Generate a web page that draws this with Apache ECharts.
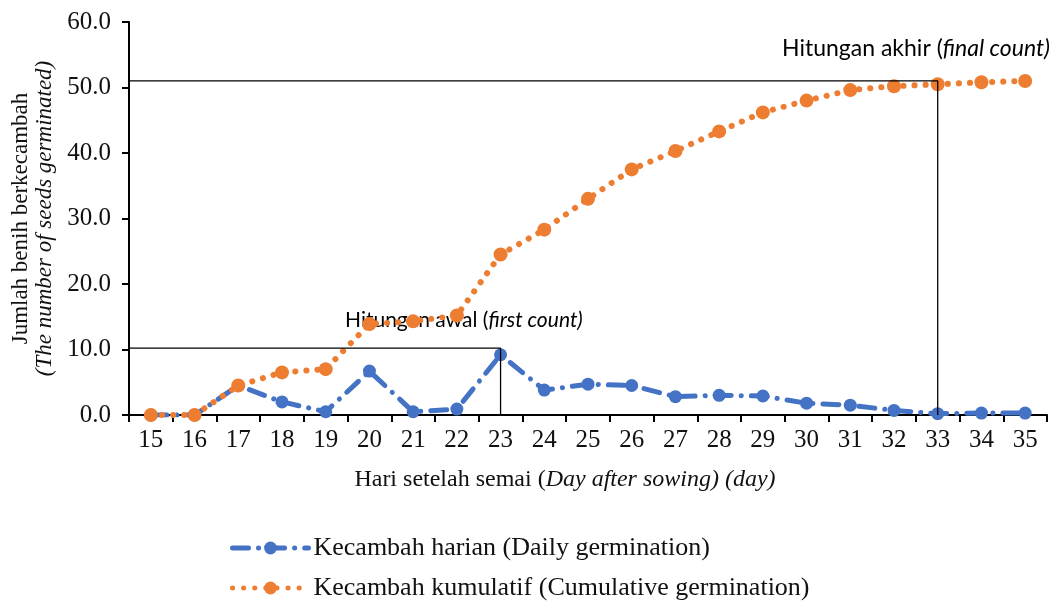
<!DOCTYPE html>
<html>
<head>
<meta charset="utf-8">
<script src="https://cdn.jsdelivr.net/npm/echarts@6/dist/echarts.min.js"></script>
<style>
  html, body { margin: 0; padding: 0; background: #fff; }
  #chart { width: 1054px; height: 605px; }
</style>
</head>
<body>
<div id="chart"></div>
<script>
// hari setelah semai
var days = ['15', '16', '17', '18', '19', '20', '21', '22', '23', '24', '25',
            '26', '27', '28', '29', '30', '31', '32', '33', '34', '35'];
// kecambah harian
var daily = [0, 0, 4.5, 2.0, 0.5, 6.7, 0.5, 0.9, 9.2, 3.8, 4.7,
             4.5, 2.8, 3.0, 2.9, 1.8, 1.5, 0.7, 0.2, 0.3, 0.3];
// kecambah kumulatif
var cumulative = [0, 0, 4.5, 6.5, 7.0, 13.9, 14.3, 15.2, 24.5, 28.3, 33.0,
                  37.5, 40.3, 43.3, 46.2, 48.0, 49.6, 50.2, 50.5, 50.8, 51.0];
var yTicks = [0, 10, 20, 30, 40, 50, 60];
// garis hitungan awal / akhir (hari, nilai)
var firstCount = [[14.5, 10.2], [23, 10.2], [23, 0]];
var finalCount = [[14.5, 51.0], [33, 51.0], [33, 0]];

var serif = 'Liberation Serif';
var chart = echarts.init(document.getElementById('chart'));

var option = {
    animation: false,
    grid: { left: 129, right: 7, top: 22, bottom: 190 },
    legend: {
        orient: 'vertical',
        left: 230,
        top: 535,
        padding: 0,
        itemWidth: 76,
        itemHeight: 16,
        itemGap: 14,
        lineStyle: { width: 5 },
        data: ['Kecambah harian (Daily germination)', 'Kecambah kumulatif (Cumulative germination)'],
        textStyle: { fontFamily: serif, fontSize: 26, lineHeight: 26, color: '#111' }
    },
    xAxis: [
        {
            type: 'category',
            data: days,
            boundaryGap: true,
            axisLine: { lineStyle: { color: '#000', width: 2 } },
            axisTick: { show: true, length: 7, lineStyle: { color: '#000', width: 2 } },
            axisLabel: { fontFamily: serif, fontSize: 25, color: '#111', margin: 13 },
            name: '{r|Hari setelah semai (}{i|Day after sowing) (day)}',
            nameLocation: 'middle',
            nameGap: 53,
            nameTextStyle: {
                padding: [0, 46, 0, 0],
                rich: {
                    r: { fontFamily: serif, fontSize: 24, color: '#111' },
                    i: { fontFamily: serif, fontSize: 24, fontStyle: 'italic', color: '#111' }
                }
            }
        },
        {
            type: 'value',
            min: 14.5,
            max: 35.5,
            show: false
        }
    ],
    yAxis: {
        type: 'value',
        min: 0,
        max: 60,
        interval: 10,
        splitLine: { show: false },
        axisLine: { show: true, lineStyle: { color: '#000', width: 2 } },
        axisTick: { show: true, inside: false, length: 7, lineStyle: { color: '#000', width: 2 } },
        axisLabel: {
            fontFamily: serif, fontSize: 25, color: '#111', margin: 18,
            formatter: function (v) { return yTicks.indexOf(v) >= 0 ? v.toFixed(1) : ''; }
        },
        name: '{a|Jumlah benih berkecambah}\n{b|(The number of seeds germinated)}',
        nameLocation: 'middle',
        nameRotate: 90,
        nameGap: 72,
        nameTextStyle: {
            rich: {
                a: { fontFamily: serif, fontSize: 23, color: '#111', lineHeight: 24 },
                b: { fontFamily: serif, fontSize: 23, fontStyle: 'italic', color: '#111', lineHeight: 24 }
            }
        }
    },
    series: [
        {
            name: 'Kecambah harian (Daily germination)',
            type: 'line',
            data: daily,
            symbol: 'circle',
            symbolSize: 13,
            itemStyle: { color: '#4472C4' },
            lineStyle: { color: '#4472C4', width: 5, cap: 'round', type: [16, 10, 0.1, 10] },
            z: 3
        },
        {
            name: 'Kecambah kumulatif (Cumulative germination)',
            type: 'line',
            data: cumulative,
            symbol: 'circle',
            symbolSize: 14,
            itemStyle: { color: '#ED7D31' },
            lineStyle: { color: '#ED7D31', width: 6, cap: 'round', type: [0.1, 11] },
            z: 4
        },
        {
            type: 'line',
            xAxisIndex: 1,
            data: firstCount,
            symbol: 'none',
            silent: true,
            lineStyle: { color: '#000', width: 1.3 },
            z: 5
        },
        {
            type: 'line',
            xAxisIndex: 1,
            data: finalCount,
            symbol: 'none',
            silent: true,
            lineStyle: { color: '#000', width: 1.3 },
            z: 5
        }
    ],
    graphic: [
        {
            type: 'text',
            left: 345,
            top: 310,
            style: {
                text: '{r|Hitungan awal (}{i|first count)}',
                rich: {
                    r: { fontFamily: 'Lato', fontSize: 21, fill: '#000' },
                    i: { fontFamily: 'Lato', fontSize: 21, fontStyle: 'italic', fill: '#000' }
                }
            }
        },
        {
            type: 'text',
            left: 782,
            top: 37,
            style: {
                text: '{r|Hitungan akhir (}{i|final count)}',
                rich: {
                    r: { fontFamily: 'Lato', fontSize: 23, fill: '#000' },
                    i: { fontFamily: 'Lato', fontSize: 23, fontStyle: 'italic', fill: '#000' }
                }
            }
        }
    ]
};

chart.setOption(option);
</script>
</body>
</html>
